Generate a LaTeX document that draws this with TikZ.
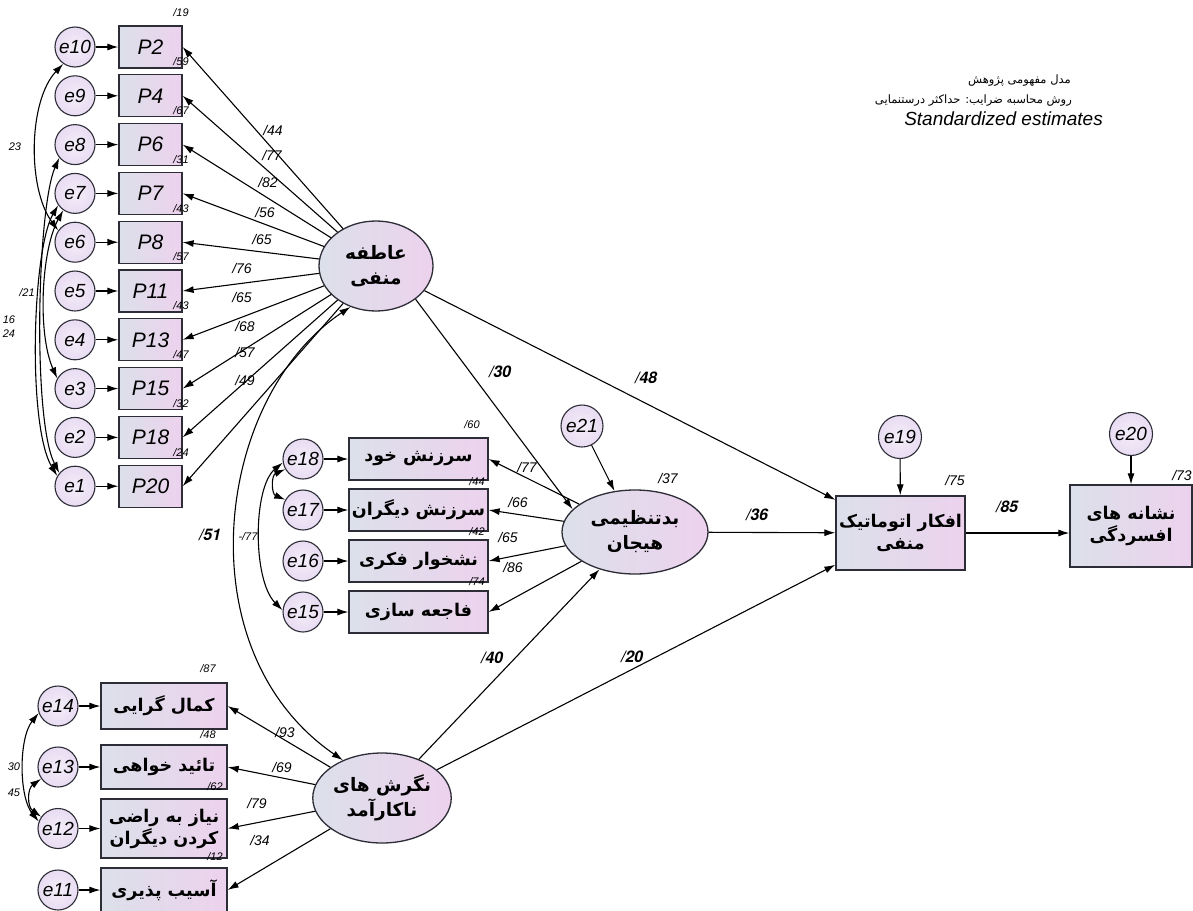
\documentclass[tikz,border=0pt]{standalone}
\usepackage{fontspec}
\setmainfont{Liberation Sans}
\newfontfamily\fa[Script=Arabic]{DejaVu Sans}
\newfontfamily\hv{TeX Gyre Heros}
\TeXXeTstate=1
\usetikzlibrary{arrows.meta,shapes.geometric}
\definecolor{boxL}{RGB}{220,224,234}
\definecolor{boxR}{RGB}{237,210,237}
\definecolor{circC}{RGB}{232,220,242}
\definecolor{edge}{RGB}{45,45,55}
\tikzset{
 arr/.style={line width=1.1pt, -{Latex[length=11pt,width=7pt]}},
 darr/.style={line width=1.1pt, {Latex[length=11pt,width=7pt]}-{Latex[length=11pt,width=7pt]}},
 err/.style={circle, draw=edge, line width=1.1pt, inner sep=0pt, minimum size=40pt, inner color=white!50!circC, outer color=circC, font=\fontsize{19}{19}\selectfont\itshape},
 obs/.style={rectangle, draw=edge, line width=1.3pt, left color=boxL, right color=boxR, inner sep=0pt, align=center, font=\fa\bfseries\fontsize{17.5}{22}\selectfont},
 lat/.style={ellipse, draw=edge, line width=1.3pt, left color=boxL, right color=boxR, inner sep=0pt, align=center, font=\fa\bfseries\fontsize{18.5}{25}\selectfont},
 ld/.style={font=\fontsize{14}{14}\selectfont\itshape},
 rsq/.style={font=\fontsize{11}{11}\selectfont\itshape},
 st/.style={font=\hv\fontsize{16}{16}\selectfont\bfseries\itshape},
}
\begin{document}
\begin{tikzpicture}[x=1pt,y=-1pt]
\useasboundingbox (0,0) rectangle (1193,910);
\clip (0,0) rectangle (1193,910);
\fill[white] (0,0) rectangle (1193,910);

% title
\node[font=\fa\fontsize{11.5}{11.5}\selectfont, anchor=east, inner sep=0pt] (t1) at (1071,81) {\beginR مدل مفهومی پژوهش\endR};
\node[font=\fa\fontsize{11.5}{11.5}\selectfont, anchor=east, inner sep=0pt] (t2) at (1072,101) {\beginR روش محاسبه ضرایب: حداکثر درستنمایی\endR};
\node[font=\fontsize{19}{19}\selectfont\itshape, anchor=east, inner sep=0pt] (t3) at (1103,119) {Standardized estimates};

% latent variables
\node[lat, minimum width=114pt, minimum height=90pt] (A) at (376,266) {\beginR عاطفه\endR\\\beginR منفی\endR};
\node[lat, minimum width=146pt, minimum height=84pt] (B) at (635,532) {\beginR بدتنظیمی\endR\\\beginR هیجان\endR};
\node[lat, minimum width=134pt, minimum height=90pt] (N) at (382,798) {\beginR نگرش های\endR\\\beginR ناکارآمد\endR};

% left block
\foreach \pl/\el/\rr/\yy in {P2/e10/19/47, P4/e9/59/95.8, P6/e8/67/144.6, P7/e7/31/193.4, P8/e6/43/242.2, P11/e5/57/291, P13/e4/43/339.8, P15/e3/47/388.6, P18/e2/32/437.4, P20/e1/24/486.2} {
 \node[obs, minimum width=63pt, minimum height=42pt, font=\fontsize{21}{21}\selectfont\itshape] (\pl) at (150.5,\yy) {\pl};
 \node[err] (\el) at (75,\yy) {\el};
 \node[rsq] (r\pl) at (181,\yy-34) {/\rr};
 \draw[arr] (\el) -- (\pl);
 \draw[arr] (A) -- (\pl.east);
}
\node[ld] (l1) at (273,130) {/44};
\node[ld] (l2) at (272,155) {/77};
\node[ld] (l3) at (268,182) {/82};
\node[ld] (l4) at (265,212) {/56};
\node[ld] (l5) at (262,239) {/65};
\node[ld] (l6) at (242,268) {/76};
\node[ld] (l7) at (242,297) {/65};
\node[ld] (l8) at (245,326) {/68};
\node[ld] (l9) at (245,352) {/57};
\node[ld] (l10) at (245,380) {/49};

\draw[darr] (e10.235) .. controls +(-35,37) and +(-31,-42) .. (e6.145);
\draw[darr] (e8.220) .. controls +(-22,50) and +(-27,-53) .. (e1.140);
\draw[darr] (e7.215) .. controls +(-26,45) and +(-30,-50) .. (e1.150);
\draw[darr] (e7.235) .. controls +(-22,40) and +(-20,-45) .. (e3.150);
\node[rsq] (c1) at (15,147) {23};
\node[rsq] (c2) at (27,293) {/21};
\node[rsq] (c3) at (9,320) {16};
\node[rsq] (c4) at (9,334) {24};

% middle block
\foreach \m/\el/\yy/\txt in {M1/e18/459/{سرزنش خود}, M2/e17/510/{سرزنش دیگران}, M3/e16/561/{نشخوار فکری}, M4/e15/612/{فاجعه سازی}} {
 \node[obs, minimum width=139pt, minimum height=42pt] (\m) at (418.5,\yy) {\beginR\txt\endR};
 \node[err] (\el) at (303,\yy) {\el};
 \draw[arr] (\el) -- (\m);
 \draw[arr] (B) -- (\m.east);
}
\node[rsq] (rM1) at (472,425) {/60};
\node[rsq] (rM2) at (477,482) {/44};
\node[rsq] (rM3) at (477,532) {/42};
\node[rsq] (rM4) at (477,582) {/74};
\node[ld] (m1) at (527,467) {/77};
\node[ld] (m2) at (518,502) {/66};
\node[ld] (m3) at (508,537) {/65};
\node[ld] (m4) at (513,567) {/86};
\draw[darr] (e18.210) .. controls +(-14,6) and +(-14,-6) .. (e17.150);
\draw[darr] (e18.190) .. controls +(-30,25) and +(-30,-30) .. (e15.175);
\node[rsq] (c5) at (248,537) {-/77};

% bottom block
\node[obs, minimum width=126pt, minimum height=46pt] (K1) at (164,706) {\beginR کمال گرایی\endR};
\node[obs, minimum width=126pt, minimum height=44pt] (K2) at (164,767) {\beginR تائید خواهی\endR};
\node[obs, minimum width=126pt, minimum height=59pt] (K3) at (164,828.5) {\beginR نیاز به راضی\endR\\\beginR کردن دیگران\endR};
\node[obs, minimum width=126pt, minimum height=44pt] (K4) at (164,890) {\beginR آسیب پذیری\endR};
\node[err] (e14) at (58,706) {e14};
\node[err] (e13) at (58,767) {e13};
\node[err] (e12) at (58,828.5) {e12};
\node[err] (e11) at (58,890) {e11};
\foreach \e/\k in {e14/K1, e13/K2, e12/K3, e11/K4} {
 \draw[arr] (\e) -- (\k);
 \draw[arr] (N) -- (\k.east);
}
\node[rsq] (rK1) at (208,669) {/87};
\node[rsq] (rK2) at (208,735) {/48};
\node[rsq] (rK3) at (215,787) {/62};
\node[rsq] (rK4) at (215,857) {/12};
\node[ld] (k1) at (285,732) {/93};
\node[ld] (k2) at (282,767) {/69};
\node[ld] (k3) at (257,803) {/79};
\node[ld] (k4) at (260,840) {/34};
\draw[darr] (e14.200) .. controls +(-20,25) and +(-20,-25) .. (e12.160);
\draw[darr] (e13.215) .. controls +(-14,10) and +(-14,-10) .. (e12.145);
\node[rsq] (c6) at (14,767) {30};
\node[rsq] (c7) at (14,793) {45};

% right side
\node[obs, minimum width=129pt, minimum height=74pt] (AF) at (900.5,533) {\beginR افکار اتوماتیک\endR\\\beginR منفی\endR};
\node[obs, minimum width=122pt, minimum height=82pt] (D) at (1131,526) {\beginR نشانه های\endR\\\beginR افسردگی\endR};
\node[err, minimum size=42pt] (e21) at (582,426) {e21};
\node[err, minimum size=43pt] (e19) at (900,437) {e19};
\node[err, minimum size=43pt] (e20) at (1131,434) {e20};
\draw[arr] (e21) -- (B);
\draw[arr] (e19) -- (AF);
\draw[arr] (e20) -- (D);
\node[ld] (rB) at (668,478) {/37};
\node[ld] (rAF) at (955,480) {/75};
\node[ld] (rD) at (1182,475) {/73};

% structural paths
\draw[arr] (A.-40) -- (B.160);
\draw[arr] (A) -- (AF.153);
\draw[arr] (B) -- (AF);
\draw[arr] (AF.east) -- (AF.east -| D.west);
\draw[arr] (N) -- (B);
\draw[arr] (N) -- (AF.206);
\draw[darr] (A.238) .. controls +(-135,90) and +(-160,-110) .. (N.136);
\node[st] (s1) at (500,372) {/30};
\node[st] (s2) at (646,378) {/48};
\node[st] (s3) at (757,515) {/36};
\node[st] (s4) at (1007,507) {/85};
\node[st] (s5) at (210,535) {/51};
\node[st] (s6) at (492,658) {/40};
\node[st] (s7) at (632,657) {/20};
\end{tikzpicture}
\end{document}
